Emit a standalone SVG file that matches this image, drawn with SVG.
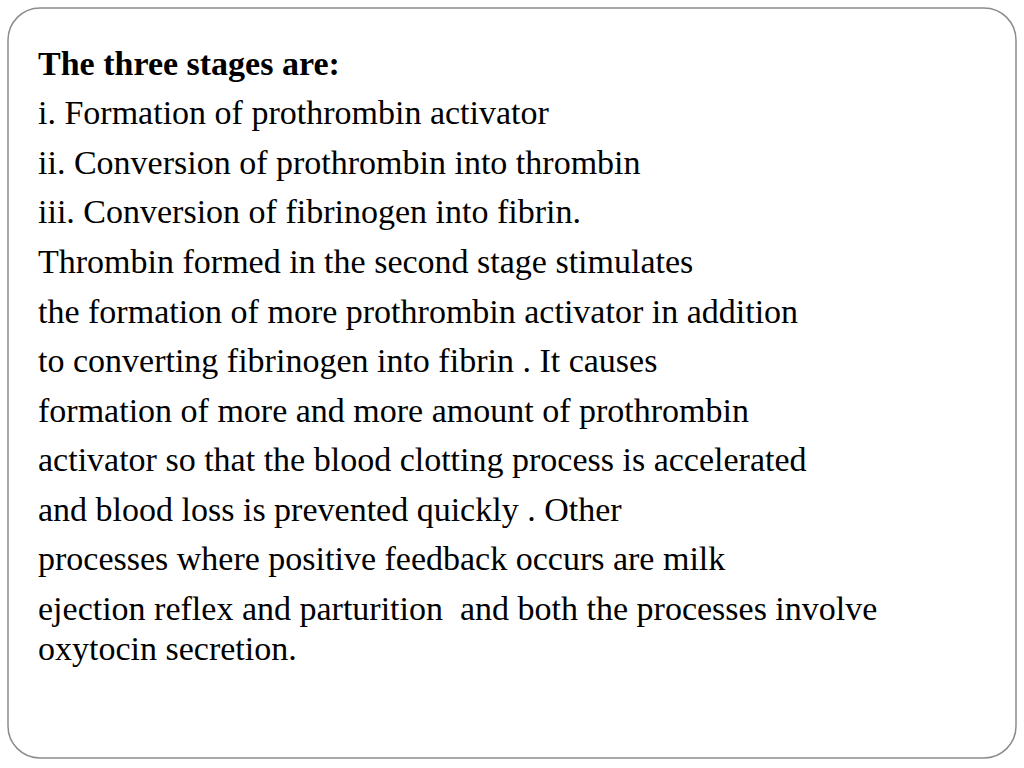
<svg xmlns="http://www.w3.org/2000/svg" width="1024" height="768" viewBox="0 0 1024 768">
<style>
text{font-family:"Liberation Serif","Times New Roman",serif;font-size:34px;fill:#000}
.b{font-weight:bold}
</style>
<rect width="1024" height="768" fill="#fff"/>
<rect x="8" y="8" width="1008" height="750" rx="32" fill="none" stroke="#8c8c8c" stroke-width="1.5"/>
<g id="body">
<text x="38" y="75" class="b">The three stages are:</text>
<text x="38" y="124">i. Formation of prothrombin activator</text>
<text x="38" y="174">ii. Conversion of prothrombin into thrombin</text>
<text x="38" y="223">iii. Conversion of fibrinogen into fibrin.</text>
<text x="38" y="273">Thrombin formed in the second stage stimulates</text>
<text x="38" y="323">the formation of more prothrombin activator in addition</text>
<text x="38" y="372">to converting fibrinogen into fibrin . It causes</text>
<text x="38" y="422">formation of more and more amount of prothrombin</text>
<text x="38" y="471">activator so that the blood clotting process is accelerated</text>
<text x="38" y="521">and blood loss is prevented quickly . Other</text>
<text x="38" y="570">processes where positive feedback occurs are milk</text>
<text x="38" y="620" xml:space="preserve">ejection reflex and parturition  and both the processes involve</text>
<text x="38" y="660">oxytocin secretion.</text>
</g>
</svg>
